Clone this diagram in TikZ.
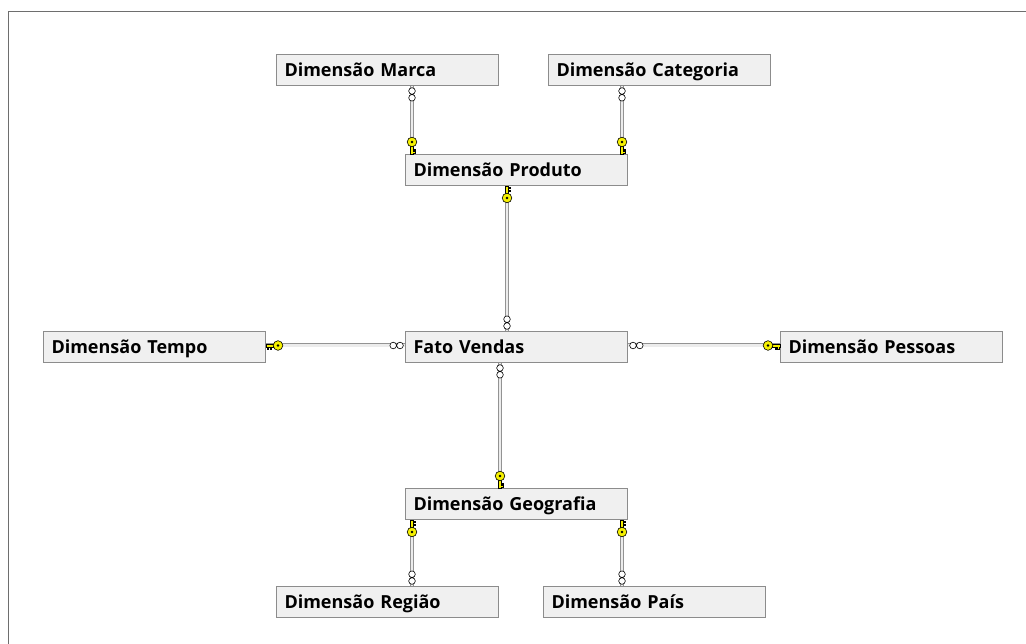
\documentclass[tikz,border=0pt]{standalone}
\usepackage{fontspec}
\setmainfont{Open Sans}
\definecolor{boxfill}{HTML}{F0F0F0}
\definecolor{boxline}{HTML}{8C8C8C}
\definecolor{keyyellow}{HTML}{F5F000}
\definecolor{framegray}{HTML}{6E6E6E}
\tikzset{
  x=1pt, y=-1pt,
  table/.style={draw=boxline, fill=boxfill, line width=1pt, anchor=north west,
    minimum width=222pt, minimum height=31pt, text width=206pt, align=left,
    text height=15pt, text depth=2pt,
    inner xsep=8pt, inner ysep=0pt, font=\fontsize{18}{20}\selectfont\bfseries},
  relation/.style={draw=gray!85, line width=0.9pt, double=gray!15, double distance=2.2pt},
  % key end of a relationship: local +x points away from the table
  keyend/.pic={
    \draw[black, line width=0.5pt, fill=keyyellow]
      (0,-1.4) -- (7.5,-1.4) -- (7.5,1.4) -- (5,1.4) -- (5,3.4) -- (3.8,3.4) -- (3.8,1.4)
      -- (2.6,1.4) -- (2.6,3.4) -- (1.2,3.4) -- (1.2,1.4) -- (0,1.4) -- cycle;
    \draw[black, line width=0.6pt, fill=keyyellow] (12,0) circle (4.8);
    \fill[black] (12,0) circle (1.3);
  },
  % many end of a relationship: two small rings
  manyend/.pic={
    \draw[black, line width=0.6pt, fill=white] (5,0) circle (3.3) (11.8,0) circle (3.3);
  },
}
\begin{document}
\begin{tikzpicture}
\useasboundingbox (0,0) rectangle (1026,644);
\fill[white] (0,0) rectangle (1026,644);
\draw[framegray, line width=1.6pt] (8.5,644) -- (8.5,11.5) -- (1026,11.5);

% tables
\node[table] (marca)     at (276,54)  {Dimensão Marca};
\node[table] (categoria) at (548,54)  {Dimensão Categoria};
\node[table] (produto)   at (405,154) {Dimensão Produto};
\node[table] (tempo)     at (43,331)  {Dimensão Tempo};
\node[table] (fato)      at (405,331) {Fato Vendas};
\node[table] (pessoas)   at (780,331) {Dimensão Pessoas};
\node[table] (geografia) at (405,488) {Dimensão Geografia};
\node[table] (regiao)    at (276,586) {Dimensão Região};
\node[table] (pais)      at (543,586) {Dimensão País};

% connector columns and row
\coordinate (colA) at (412,0);
\coordinate (colB) at (622,0);
\coordinate (colC) at (507,0);
\coordinate (colD) at (500,0);
\coordinate (rowF) at (0,345.5);

% relationship lines
\draw[relation] (marca.south -| colA) -- (produto.north -| colA);
\draw[relation] (categoria.south -| colB) -- (produto.north -| colB);
\draw[relation] (produto.south -| colC) -- (fato.north -| colC);
\draw[relation] (tempo.east |- rowF) -- (fato.west |- rowF);
\draw[relation] (fato.east |- rowF) -- (pessoas.west |- rowF);
\draw[relation] (fato.south -| colD) -- (geografia.north -| colD);
\draw[relation] (geografia.south -| colA) -- (regiao.north -| colA);
\draw[relation] (geografia.south -| colB) -- (pais.north -| colB);

% many ends
\pic[rotate=-90] at (marca.south -| colA) {manyend};
\pic[rotate=-90] at (categoria.south -| colB) {manyend};
\pic[rotate=90]  at (fato.north -| colC) {manyend};
\pic[rotate=180] at (fato.west |- rowF) {manyend};
\pic             at (fato.east |- rowF) {manyend};
\pic[rotate=-90] at (fato.south -| colD) {manyend};
\pic[rotate=90]  at (regiao.north -| colA) {manyend};
\pic[rotate=90]  at (pais.north -| colB) {manyend};

% key ends
\pic[rotate=90] at (produto.north -| colA) {keyend};
\pic[rotate=90] at (produto.north -| colB) {keyend};
\pic[rotate=-90, yscale=-1] at (produto.south -| colC) {keyend};
\pic at (tempo.east |- rowF) {keyend};
\pic[rotate=180, yscale=-1] at (pessoas.west |- rowF) {keyend};
\pic[rotate=90] at (geografia.north -| colD) {keyend};
\pic[rotate=-90, yscale=-1] at (geografia.south -| colA) {keyend};
\pic[rotate=-90, yscale=-1] at (geografia.south -| colB) {keyend};
\end{tikzpicture}
\end{document}
